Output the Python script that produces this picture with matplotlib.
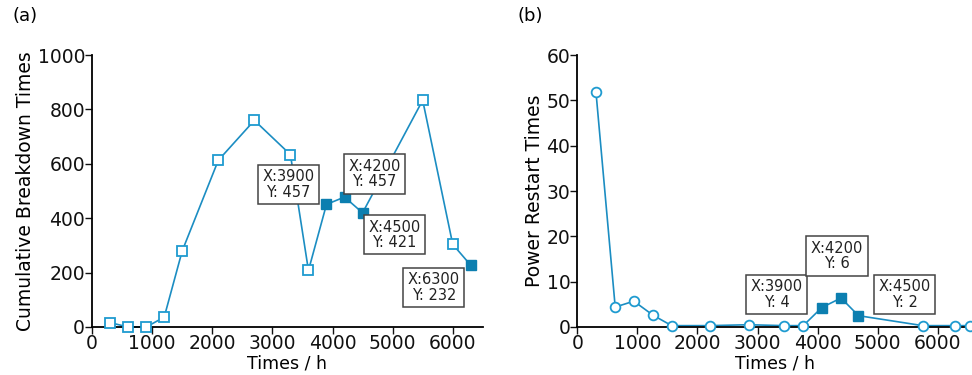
import matplotlib
matplotlib.use("Agg")
import matplotlib.pyplot as plt

# (a) cumulative breakdown times
a_x = [300, 600, 900, 1200, 1500, 2100, 2700, 3300, 3600, 3900, 4200, 4500, 5500, 6000, 6300]
a_y = [16, 0, 0, 36, 280, 613, 760, 634, 208, 451, 478, 420, 834, 304, 227]
a_marked = [3900, 4200, 4500, 6300]
a_labels = ["X:3900\nY: 457", "X:4200\nY: 457", "X:4500\nY: 421", "X:6300\nY: 232"]

# (b) power restart times
b_x = [310, 630, 940, 1260, 1570, 2200, 2850, 3440, 3760, 4070, 4390, 4680, 5750, 6280, 6540]
b_y = [51.8, 4.4, 5.7, 2.6, 0.3, 0.3, 0.5, 0.3, 0.3, 4.3, 6.4, 2.5, 0.3, 0.3, 0.3]
b_marked = [4070, 4390, 4680]
b_labels = ["X:3900\nY: 4", "X:4200\nY: 6", "X:4500\nY: 2"]

line_c = "#1b8dc2"
open_c = "#1f9bd0"
fill_c = "#0c7fb0"

plt.rcParams["font.family"] = "DejaVu Sans"

fig = plt.figure(figsize=(9.72, 3.75), dpi=100)
ax1 = fig.add_axes([0.0947, 0.128, 0.402, 0.725])
ax2 = fig.add_axes([0.594, 0.128, 0.406, 0.725])


def draw(ax, xs, ys, marked, labels, offsets, marker, ms, ylim, yticks, ylabel):
    ax.plot(xs, ys, color=line_c, lw=1.2, zorder=2, clip_on=False)
    for x, y in zip(xs, ys):
        if x in marked:
            ax.plot(x, y, marker="s", ms=7.5, color=fill_c, mec=fill_c, zorder=3, clip_on=False)
        else:
            ax.plot(x, y, marker=marker, ms=ms, mfc="white", mec=open_c, mew=1.3,
                    zorder=3, clip_on=False)
    for x, lab, off in zip(marked, labels, offsets):
        y = ys[xs.index(x)]
        ax.annotate(lab, (x, y), xytext=off, textcoords="offset pixels",
                    ha="center", va="center", fontsize=10.5, linespacing=1.05,
                    color="#222222", zorder=5,
                    bbox=dict(boxstyle="square,pad=0.3", fc="white", ec="#444444", lw=1.1))
    ax.set_ylim(*ylim)
    ax.set_yticks(yticks)
    ax.set_xticks(range(0, 7000, 1000))
    for s in ["top", "right"]:
        ax.spines[s].set_visible(False)
    ax.spines["left"].set_linewidth(1.3)
    ax.spines["bottom"].set_linewidth(1.3)
    ax.tick_params(labelsize=13.5, length=5, width=1, pad=0, colors="#111111")
    ax.set_ylabel(ylabel, fontsize=13.5, labelpad=2)
    ax.set_xlabel("Times / h", fontsize=12.5, labelpad=1)


draw(ax1, a_x, a_y, a_marked, a_labels,
     [(-38, 20), (30, 23), (32, -22), (-37, -22)],
     "s", 7, (0, 1000), range(0, 1001, 200), "Cumulative Breakdown Times")
ax1.set_xlim(0, 6500)

draw(ax2, b_x, b_y, b_marked, b_labels,
     [(-45, 13), (-4, 42), (46, 21)],
     "o", 7, (0, 60), range(0, 61, 10), "Power Restart Times")
ax2.set_xlim(0, 6570)

fig.text(0.013, 0.945, "(a)", fontsize=13)
fig.text(0.532, 0.945, "(b)", fontsize=13)

fig.savefig("out.png", dpi=100)
